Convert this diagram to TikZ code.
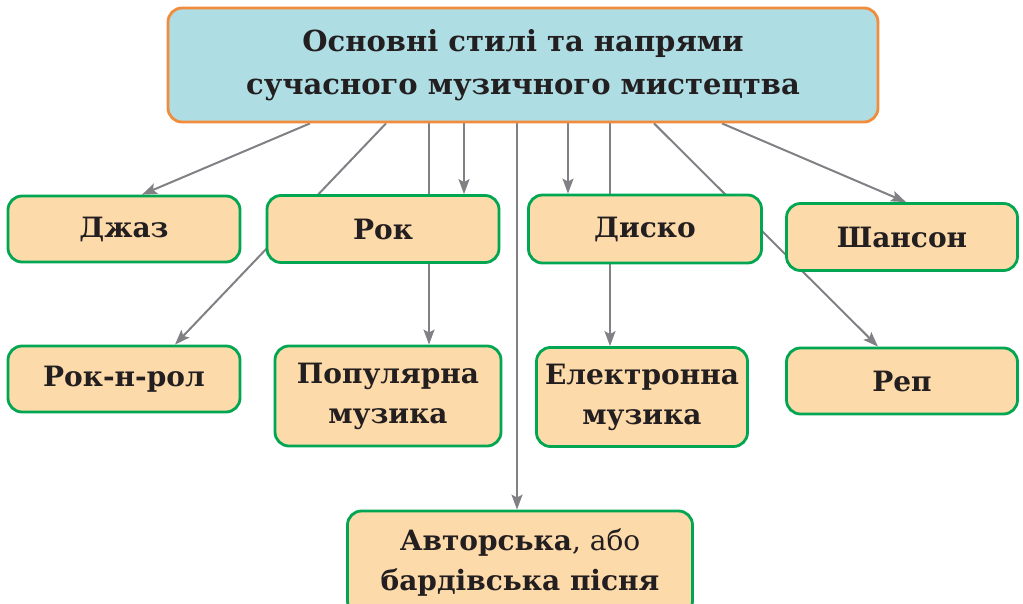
\documentclass[tikz,border=0pt]{standalone}
\usepackage{fontspec}
\setmainfont{DejaVu Serif}
\usepackage{tikz}
\usetikzlibrary{arrows.meta, positioning, calc, backgrounds}
\definecolor{topfill}{RGB}{174, 221, 227}
\definecolor{toporange}{RGB}{240, 140, 60}
\definecolor{boxpeach}{RGB}{253, 218, 170}
\definecolor{boxgreen}{RGB}{0, 166, 81}
\definecolor{linkgray}{RGB}{128, 128, 133}
\definecolor{darktext}{RGB}{35, 31, 32}

\tikzset{
    stylebox/.style={fill=boxpeach, draw=boxgreen, line width=2.8pt, rounded corners=14pt,
          align=center, text=darktext, font=\fontsize{28}{40}\selectfont\bfseries, inner sep=0pt},
    link/.style={draw=linkgray, line width=2pt},
    arrowlink/.style={link, -{Stealth[length=15pt, width=11pt, inset=3pt]}}
}

\begin{document}
\begin{tikzpicture}[x=1pt, y=-1pt]
    \useasboundingbox (0,0) rectangle (1023,604);
    % main title
    \node[fill=topfill, draw=toporange, line width=2.8pt, rounded corners=14pt,
          minimum width=710pt, minimum height=114pt, inner sep=0pt, align=center,
          text=darktext, font=\fontsize{29}{43}\selectfont\bfseries] (main) at (523,65) {
        Основні стилі та напрями\\
        сучасного музичного мистецтва
    };
    % first row
    \node[stylebox, minimum width=232pt, minimum height=66pt] (jazz) at (124,229) {Джаз};
    \node[stylebox, minimum width=232pt, minimum height=67pt] (rock) at (383,229) {Рок};
    \node[stylebox, minimum width=233pt, minimum height=68pt] (disco) at (645,229) {Диско};
    \node[stylebox, minimum width=231pt, minimum height=67pt] (chanson) at (902,237) {Шансон};
    % second row
    \node[stylebox, minimum width=232pt, minimum height=66pt] (rocknroll) at (124,379) {Рок-н-рол};
    \node[stylebox, minimum width=226pt, minimum height=100pt] (pop) at (388,396) {Популярна\\музика};
    \node[stylebox, minimum width=211pt, minimum height=99pt] (electro) at (642,397) {Електронна\\музика};
    \node[stylebox, minimum width=231pt, minimum height=66pt] (rap) at (902,381) {Реп};
    % bottom
    \node[stylebox, minimum width=345pt, minimum height=104pt] (author) at (520,563)
        {Авторська\textmd{, або}\\бардівська пісня};

    \begin{scope}[on background layer]
        \draw[arrowlink] ([xshift=-213pt]main.south) -- ([xshift=18pt]jazz.north);
        \draw[arrowlink] ([xshift=-137pt]main.south) -- ([xshift=51pt]rocknroll.north);
        \draw[arrowlink] ([xshift=-94pt]main.south) -- ([xshift=41pt]pop.north);
        \draw[arrowlink] ([xshift=-59pt]main.south) -- ([xshift=81pt]rock.north);
        \draw[arrowlink] ([xshift=-6pt]main.south) -- ([xshift=-3pt]author.north);
        \draw[arrowlink] ([xshift=45pt]main.south) -- ([xshift=-77pt]disco.north);
        \draw[arrowlink] ([xshift=87pt]main.south) -- ([xshift=-32pt]electro.north);
        \draw[arrowlink] ([xshift=131pt]main.south) -- ([xshift=-24pt]rap.north);
        \draw[arrowlink] ([xshift=199pt]main.south) -- ([xshift=4pt]chanson.north);
    \end{scope}
\end{tikzpicture}
\end{document}
